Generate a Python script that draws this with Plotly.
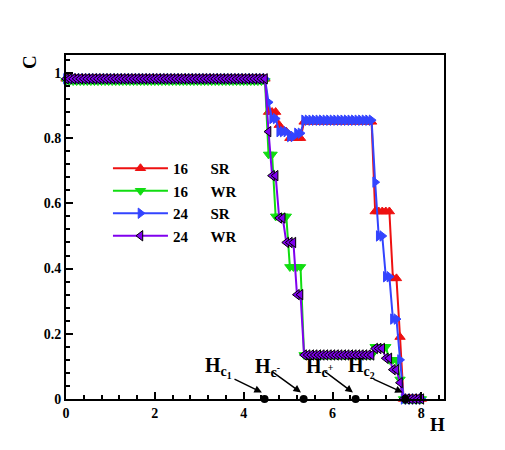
import plotly.graph_objects as go

# sampling grid of H (step 0.08, 0 .. 8)
H = [round(0.08 * i, 2) for i in range(101)]

# C values as (value, number of points) runs
runs_16SR = [(0.982, 57), (0.88, 3), (0.84, 1), (0.82, 2), (0.80, 4), (0.85, 20),
             (0.575, 5), (0.37, 2), (0.19, 1), (0.0, 6)]
runs_16WR = [(0.975, 57), (0.75, 2), (0.56, 4), (0.405, 4), (0.135, 20),
             (0.16, 4), (0.12, 3), (0.06, 1), (0.0, 6)]
runs_24SR = [(0.982, 57), (0.91, 1), (0.86, 2), (0.82, 3), (0.805, 2), (0.815, 2),
             (0.855, 20), (0.665, 1), (0.50, 2), (0.375, 2), (0.245, 2), (0.12, 1), (0.0, 6)]
runs_24WR = [(0.982, 57), (0.82, 1), (0.685, 2), (0.555, 2), (0.48, 3), (0.32, 2),
             (0.135, 20), (0.155, 3), (0.125, 2), (0.09, 2), (0.05, 1), (0.0, 6)]

# critical fields marked on the H axis
hc_names = ["H<sub>c<sub>1</sub></sub>", "H<sub>c<sup>-</sup></sub>",
            "H<sub>c<sup>+</sup></sub>", "H<sub>c<sub>2</sub></sub>"]
hc_values = [4.47, 5.35, 6.52, 7.64]


def expand(runs):
    out = []
    for v, n in runs:
        out += [v] * n
    return out


gap = "\u00a0" * 6
series = [
    ("16" + gap + "SR", runs_16SR, "#ee1111", "triangle-up", None),
    ("16" + gap + "WR", runs_16WR, "#11dd11", "triangle-down", None),
    ("24" + gap + "SR", runs_24SR, "#3344ff", "triangle-right", None),
    ("24" + gap + "WR", runs_24WR, "#8000ee", "triangle-left", "black"),
]

fig = go.Figure()
for name, runs, col, sym, edge in series:
    fig.add_trace(go.Scatter(
        x=H, y=expand(runs), name=name, mode="lines+markers",
        line=dict(color=col, width=2),
        marker=dict(symbol=sym, size=9, color=col,
                    line=dict(color=edge if edge else col, width=1)),
        cliponaxis=False,
    ))

fig.add_trace(go.Scatter(
    x=hc_values, y=[0] * len(hc_values), mode="markers", showlegend=False,
    marker=dict(symbol="circle", size=8, color="black"), cliponaxis=False,
))

font = "Liberation Serif"
annotations = []
# label positions (left edge of "H") and arrow tails, in data coords
label_x = [3.09, 4.21, 5.36, 6.31]
tail_x = [3.76, 4.60, 5.79, 6.89]
tail_y = [0.063, 0.088, 0.088, 0.063]
for name, hv, lx, tx, ty in zip(hc_names, hc_values, label_x, tail_x, tail_y):
    annotations.append(dict(x=lx, y=0.097, xref="x", yref="y", text="<b>" + name + "</b>",
                            showarrow=False, xanchor="left", yanchor="middle",
                            font=dict(family=font, size=20, color="black")))
    annotations.append(dict(x=hv - 0.06, y=0.02, ax=tx, ay=ty, xref="x", yref="y",
                            axref="x", ayref="y", text="", showarrow=True,
                            arrowhead=2, arrowsize=1, arrowwidth=1.5, arrowcolor="black"))

annotations.append(dict(x=-0.095, y=0.98, xref="paper", yref="paper", text="<b>C</b>",
                        showarrow=False, textangle=-90, xanchor="center", yanchor="middle",
                        font=dict(family=font, size=19, color="black")))
annotations.append(dict(x=0.984, y=-0.074, xref="paper", yref="paper", text="<b>H</b>",
                        showarrow=False, xanchor="center", yanchor="middle",
                        font=dict(family=font, size=19, color="black")))

axis_common = dict(showline=True, linecolor="black", linewidth=2, mirror=True,
                   ticks="inside", tickcolor="black", tickwidth=2, ticklen=7,
                   showgrid=False, zeroline=False,
                   tickfont=dict(family=font, size=14, color="black", weight="bold"))

# page body adds an 8px offset, so margins are shifted to compensate
fig.update_layout(
    width=505, height=450,
    margin=dict(l=58, r=69, t=47, b=59),
    paper_bgcolor="white", plot_bgcolor="white",
    font=dict(family=font, color="black"),
    xaxis=dict(range=[0, 8.51], dtick=2, tickformat="d",
               minor=dict(dtick=0.4, ticks="inside", ticklen=4, tickcolor="black", tickwidth=1.5),
               **axis_common),
    yaxis=dict(range=[0, 1.055], dtick=0.2,
               minor=dict(dtick=0.04, ticks="inside", ticklen=4, tickcolor="black", tickwidth=1.5),
               **axis_common),
    legend=dict(x=0.111, y=0.718, xanchor="left", yanchor="top", bgcolor="rgba(0,0,0,0)",
                font=dict(family=font, size=15, color="black", weight="bold"), tracegroupgap=0,
                itemwidth=55),
    annotations=annotations,
)

fig.write_html("out.html")
